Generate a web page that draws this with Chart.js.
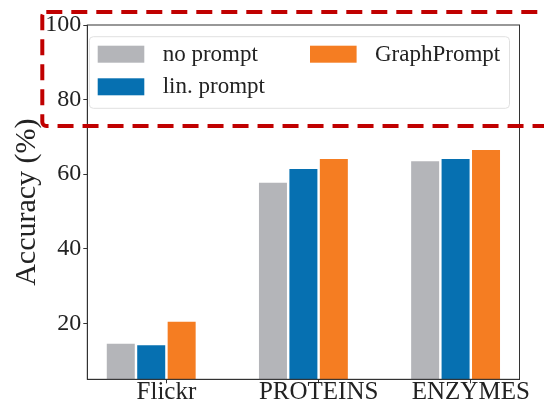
<!DOCTYPE html>
<html>
<head>
<meta charset="utf-8">
<title>Accuracy</title>
<script src="https://cdn.jsdelivr.net/npm/chart.js@4.4.1/dist/chart.umd.min.js"></script>
<style>
  html, body { margin: 0; padding: 0; background: #fff; }
  canvas { display: block; }
</style>
</head>
<body>
<canvas id="accChart" width="544" height="404"></canvas>
<script>
// 데이터
const categories = ['Flickr', 'PROTEINS', 'ENZYMES'];
const seriesNames = ['no prompt', 'lin. prompt', 'GraphPrompt'];
const noPrompt = [14.5, 57.7, 63.5];
const linPrompt = [14.1, 61.4, 64.1];
const graphPrompt = [20.4, 64.1, 66.5];
const yTickValues = [20, 40, 60, 80, 100];

const seriesValues = [noPrompt, linPrompt, graphPrompt];
const seriesColors = ['#b4b5b9', '#0670b1', '#f57d22'];
const serif = 'Liberation Serif';
const ink = '#222';

// 테두리, 범례, 빨간 점선 박스
const overlay = {
    id: 'overlay',
    afterDraw(chart) {
        const ctx = chart.ctx;
        const a = chart.chartArea;
        ctx.save();

        // 축 테두리
        ctx.strokeStyle = '#333';
        ctx.lineWidth = 1;
        ctx.strokeRect(a.left, a.top, a.right - a.left, a.bottom - a.top);

        // 범례 (2행, 열 우선)
        const bx = a.left + 2, by = a.top + 11.7;
        const bw = a.right - 10 - bx, bh = 71.6;
        ctx.beginPath();
        ctx.roundRect(bx, by, bw, bh, 4);
        ctx.fillStyle = 'rgba(255,255,255,0.8)';
        ctx.fill();
        ctx.strokeStyle = '#e0e0e0';
        ctx.stroke();

        ctx.font = '23px "' + serif + '"';
        ctx.textBaseline = 'middle';
        chart.data.datasets.forEach((ds, i) => {
            const col = Math.floor(i / 2), row = i % 2;
            const sx = bx + 8.4 + col * 212.3;
            const sy = by + 9 + row * 32.6;
            ctx.fillStyle = ds.backgroundColor;
            ctx.fillRect(sx, sy, 46.6, 17);
            ctx.fillStyle = ink;
            ctx.fillText(ds.label, sx + 65, sy + 9);
        });

        // 빨간 점선 강조 박스
        ctx.setLineDash([16, 9]);
        ctx.lineWidth = 4;
        ctx.strokeStyle = '#c00000';
        ctx.beginPath();
        ctx.roundRect(a.left - 45, a.top - 13, 600, 114, 4);
        ctx.stroke();

        ctx.restore();
    }
};

new Chart(document.getElementById('accChart'), {
    type: 'bar',
    data: {
        datasets: seriesNames.map((name, s) => ({
            label: name,
            data: seriesValues[s].map((v, i) => ({ x: i, y: v })),
            backgroundColor: seriesColors[s],
            categoryPercentage: 0.6,
            barPercentage: 0.92
        }))
    },
    options: {
        responsive: false,
        animation: false,
        devicePixelRatio: 1,
        layout: { padding: { left: 0, top: 25, right: 24.5, bottom: 0 } },
        plugins: {
            legend: { display: false },
            tooltip: { enabled: false }
        },
        scales: {
            x: {
                type: 'linear',
                offset: false,
                min: -0.42,
                max: 2.42,
                afterBuildTicks: s => { s.ticks = categories.map((c, i) => ({ value: i + 0.1 })); },
                afterFit: s => { s.height = 24.7; },
                ticks: {
                    autoSkip: false,
                    maxRotation: 0,
                    padding: -5.5,
                    color: ink,
                    font: { family: serif, size: 25 },
                    callback: (v, i) => categories[i]
                },
                grid: { offset: false, drawOnChartArea: false, tickLength: 4, color: '#333' },
                border: { color: '#333' }
            },
            y: {
                min: 5,
                max: 100,
                afterBuildTicks: s => { s.ticks = yTickValues.map(v => ({ value: v })); },
                afterFit: s => { s.width = 87.3; },
                ticks: {
                    padding: 2,
                    color: ink,
                    font: { family: serif, size: 24 }
                },
                grid: { drawOnChartArea: false, tickLength: 4, color: '#333' },
                border: { color: '#333' },
                title: {
                    display: true,
                    text: 'Accuracy (%)',
                    color: ink,
                    font: { family: serif, size: 30 },
                    padding: { top: 9, bottom: 0 }
                }
            }
        }
    },
    plugins: [overlay]
});
</script>
</body>
</html>
